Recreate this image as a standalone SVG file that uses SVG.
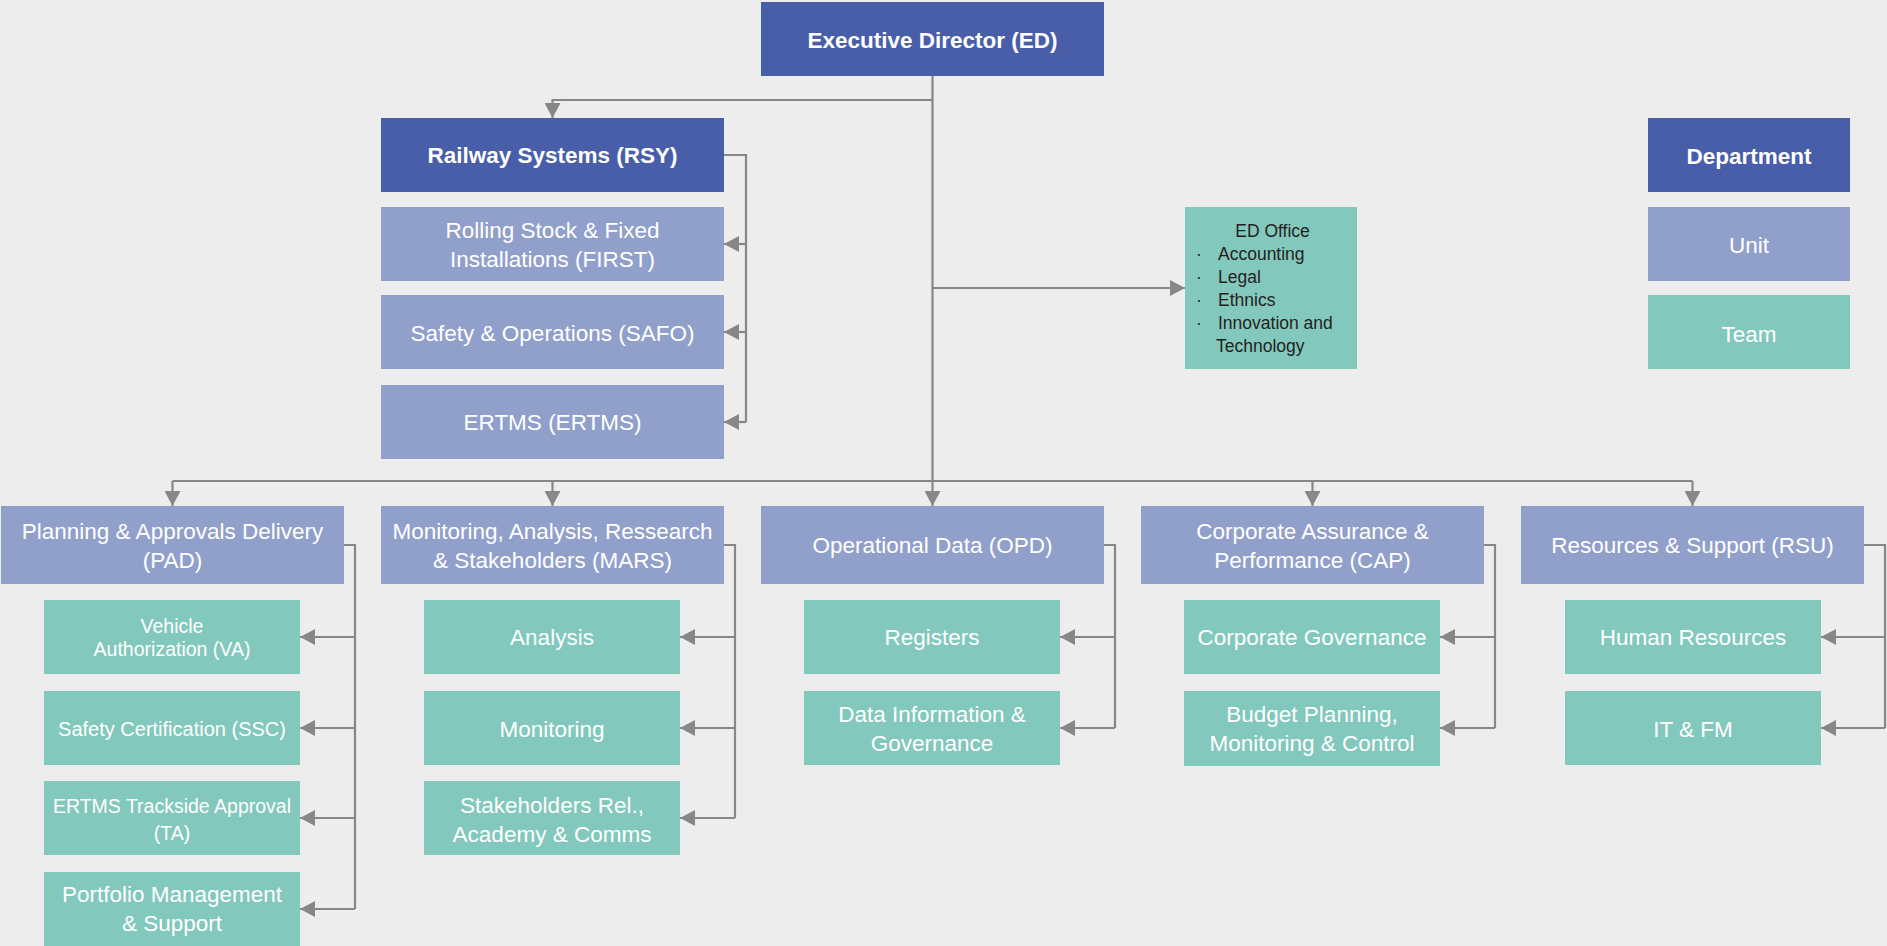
<svg xmlns="http://www.w3.org/2000/svg" width="1887" height="946" viewBox="0 0 1887 946">
<style>
.dept{fill:#485EA9}
.unit{fill:#919FCB}
.team{fill:#83C8BC}
text{font-family:"Liberation Sans",Arial,sans-serif;fill:#FFFFFF;text-anchor:middle;font-size:22.5px}
.b{font-weight:bold}
.sm{font-size:20px}
.ed{fill:#231F20;font-size:17.5px;text-anchor:start}
.c{stroke:#878787;stroke-width:2.2;fill:none}
</style>
<defs>
<marker id="ah" viewBox="0 0 15 16" refX="15" refY="8" markerWidth="15" markerHeight="16" markerUnits="userSpaceOnUse" orient="auto">
<path d="M0,0 L15,8 L0,16 Z" fill="#878787"/>
</marker>
</defs>
<rect width="1887" height="946" fill="#EDEDED"/>
<g id="connectors" class="c">
<path d="M932.5,76 V506" marker-end="url(#ah)"/>
<path d="M932.5,100 H552.5 V118" marker-end="url(#ah)"/>
<path d="M932.5,288 H1185" marker-end="url(#ah)"/>
<path d="M172.5,481 H1692.5"/>
<path d="M172.5,481 V506" marker-end="url(#ah)"/>
<path d="M552.5,481 V506" marker-end="url(#ah)"/>
<path d="M1312.5,481 V506" marker-end="url(#ah)"/>
<path d="M1692.5,481 V506" marker-end="url(#ah)"/>
<path d="M724,155 H746 V422"/>
<path d="M746,244 H724" marker-end="url(#ah)"/>
<path d="M746,332 H724" marker-end="url(#ah)"/>
<path d="M746,422 H724" marker-end="url(#ah)"/>
<path d="M344,545 H355 V909"/>
<path d="M355,637 H300" marker-end="url(#ah)"/>
<path d="M355,728 H300" marker-end="url(#ah)"/>
<path d="M355,818 H300" marker-end="url(#ah)"/>
<path d="M355,909 H300" marker-end="url(#ah)"/>
<path d="M724,545 H735 V818"/>
<path d="M735,637 H680" marker-end="url(#ah)"/>
<path d="M735,728 H680" marker-end="url(#ah)"/>
<path d="M735,818 H680" marker-end="url(#ah)"/>
<path d="M1104,545 H1115 V728"/>
<path d="M1115,637 H1060" marker-end="url(#ah)"/>
<path d="M1115,728 H1060" marker-end="url(#ah)"/>
<path d="M1484,545 H1495 V728"/>
<path d="M1495,637 H1440" marker-end="url(#ah)"/>
<path d="M1495,728 H1440" marker-end="url(#ah)"/>
<path d="M1864,545 H1885 V728"/>
<path d="M1885,637 H1821" marker-end="url(#ah)"/>
<path d="M1885,728 H1821" marker-end="url(#ah)"/>
</g>
<g id="ed"><rect class="dept" x="761" y="2" width="343" height="74"/><text class="b" x="932.5" y="48">Executive Director (ED)</text></g>
<g id="rsy"><rect class="dept" x="381" y="118" width="343" height="74"/><text class="b" x="552.5" y="163">Railway Systems (RSY)</text></g>
<g id="first"><rect class="unit" x="381" y="207" width="343" height="74"/><text x="552.5" y="237.5">Rolling Stock &amp; Fixed</text><text x="552.5" y="266.5">Installations (FIRST)</text></g>
<g id="safo"><rect class="unit" x="381" y="295" width="343" height="74"/><text x="552.5" y="340.5">Safety &amp; Operations (SAFO)</text></g>
<g id="ertms"><rect class="unit" x="381" y="385" width="343" height="74"/><text x="552.5" y="429.5">ERTMS (ERTMS)</text></g>
<g id="edoffice"><rect class="team" x="1185" y="207" width="172" height="162"/>
<text class="ed" x="1272.5" y="237" style="text-anchor:middle">ED Office</text>
<text class="ed" x="1196" y="260">·</text><text class="ed" x="1218" y="260">Accounting</text>
<text class="ed" x="1196" y="283">·</text><text class="ed" x="1218" y="283">Legal</text>
<text class="ed" x="1196" y="306">·</text><text class="ed" x="1218" y="306">Ethnics</text>
<text class="ed" x="1196" y="329">·</text><text class="ed" x="1218" y="329">Innovation and</text>
<text class="ed" x="1216" y="352">Technology</text></g>
<g id="legend-department"><rect class="dept" x="1648" y="118" width="202" height="74"/><text class="b" x="1749" y="163.5">Department</text></g>
<g id="legend-unit"><rect class="unit" x="1648" y="207" width="202" height="74"/><text x="1749" y="252.5">Unit</text></g>
<g id="legend-team"><rect class="team" x="1648" y="295" width="202" height="74"/><text x="1749" y="341.5">Team</text></g>
<g id="pad"><rect class="unit" x="1" y="506" width="343" height="78"/><text x="172.5" y="539">Planning &amp; Approvals Delivery</text><text x="172.5" y="567.5">(PAD)</text></g>
<g id="mars"><rect class="unit" x="381" y="506" width="343" height="78"/><text x="552.5" y="539">Monitoring, Analysis, Ressearch</text><text x="552.5" y="567.5">&amp; Stakeholders (MARS)</text></g>
<g id="opd"><rect class="unit" x="761" y="506" width="343" height="78"/><text x="932.5" y="553">Operational Data (OPD)</text></g>
<g id="cap"><rect class="unit" x="1141" y="506" width="343" height="78"/><text x="1312.5" y="539">Corporate Assurance &amp;</text><text x="1312.5" y="567.5">Performance (CAP)</text></g>
<g id="rsu"><rect class="unit" x="1521" y="506" width="343" height="78"/><text x="1692.5" y="553">Resources &amp; Support (RSU)</text></g>
<g id="va"><rect class="team" x="44" y="600" width="256" height="74"/><text class="sm" x="172" y="633" style="font-size:19.5px">Vehicle</text><text class="sm" x="172" y="655.5" style="font-size:19.5px">Authorization (VA)</text></g>
<g id="ssc"><rect class="team" x="44" y="691" width="256" height="74"/><text class="sm" x="172" y="736">Safety Certification (SSC)</text></g>
<g id="ta"><rect class="team" x="44" y="781" width="256" height="74"/><text class="sm" x="172" y="812.5" style="font-size:19.5px">ERTMS Trackside Approval</text><text class="sm" x="172" y="839.5" style="font-size:19.5px">(TA)</text></g>
<g id="pms"><rect class="team" x="44" y="872" width="256" height="74"/><text x="172" y="902">Portfolio Management</text><text x="172" y="930.5">&amp; Support</text></g>
<g id="analysis"><rect class="team" x="424" y="600" width="256" height="74"/><text x="552" y="645">Analysis</text></g>
<g id="monitoring"><rect class="team" x="424" y="691" width="256" height="74"/><text x="552" y="737">Monitoring</text></g>
<g id="stakeholders"><rect class="team" x="424" y="781" width="256" height="74"/><text x="552" y="812.5">Stakeholders Rel.,</text><text x="552" y="841.5">Academy &amp; Comms</text></g>
<g id="registers"><rect class="team" x="804" y="600" width="256" height="74"/><text x="932" y="645">Registers</text></g>
<g id="datainfo"><rect class="team" x="804" y="691" width="256" height="74"/><text x="932" y="722">Data Information &amp;</text><text x="932" y="751">Governance</text></g>
<g id="corpgov"><rect class="team" x="1184" y="600" width="256" height="74"/><text x="1312" y="645">Corporate Governance</text></g>
<g id="budget"><rect class="team" x="1184" y="691" width="256" height="75"/><text x="1312" y="722">Budget Planning,</text><text x="1312" y="751">Monitoring &amp; Control</text></g>
<g id="hr"><rect class="team" x="1565" y="600" width="256" height="74"/><text x="1693" y="645">Human Resources</text></g>
<g id="itfm"><rect class="team" x="1565" y="691" width="256" height="74"/><text x="1693" y="737">IT &amp; FM</text></g>
</svg>
